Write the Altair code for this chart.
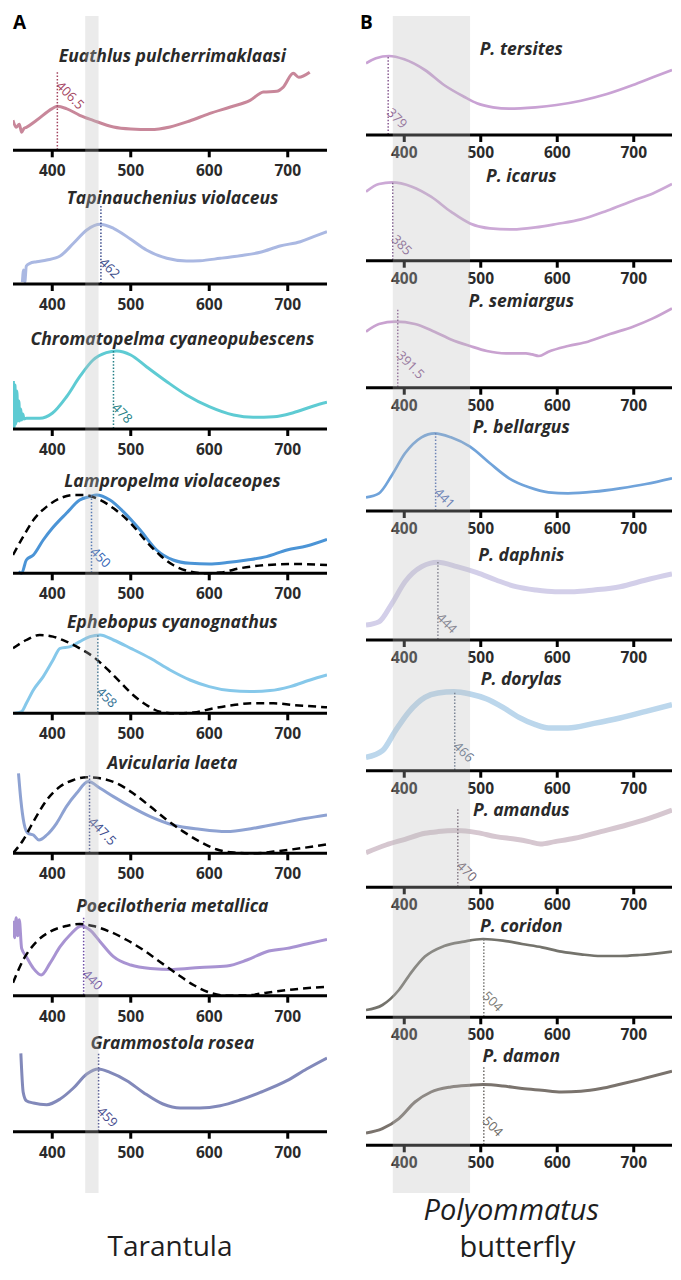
import altair as alt
import pandas as pd

# ---------------------------------------------------------------- data
TICKS = [400, 500, 600, 700]

# ---- Panel A: tarantulas (relative reflectance, 0-80 scale) ----
tar_species = ["Euathlus pulcherrimaklaasi", "Tapinauchenius violaceus",
               "Chromatopelma cyaneopubescens", "Lampropelma violaceopes",
               "Ephebopus cyanognathus", "Avicularia laeta",
               "Poecilotheria metallica", "Grammostola rosea"]
tar_peaks = [406.5, 462, 478, 450, 458, 447.5, 440, 459]
tar_peak_labels = ["406.5", "462", "478", "450", "458", "447.5", "440", "459"]
tar_line_colors = ["#c8879a", "#aab8e2", "#5ecbd3", "#4b94d6",
                   "#86c8ea", "#8ea2d2", "#a893d2", "#8289ba"]
tar_text_colors = ["#a3445f", "#3c4d8c", "#237f86", "#2f62b4",
                   "#306f92", "#3c4b8e", "#6c4ca4", "#4a4f8f"]

euathlus_wl = [350, 354, 358, 361, 364, 367, 380, 400, 406.5, 418, 435, 452, 478, 500,
               525, 550, 575, 600, 627, 652, 669, 686, 694, 707, 714, 728]
euathlus_r = [30, 23, 26, 18, 22, 23, 30, 41.7, 44, 41.7, 35, 30, 23.3, 21.3,
              20.7, 23.3, 29.3, 36.7, 43.3, 50, 58.3, 59, 63, 77, 73, 78]

tapin_wl = [362, 363.5, 365, 367, 371.5, 380, 393, 410, 427, 444, 461, 478, 500, 520,
            546, 571, 588, 614, 639, 665, 690, 716, 733, 750]
tapin_r = [2, 14, 2, 18, 20.7, 22.3, 24, 28, 40.7, 54, 59.7, 55.7, 44.7, 34,
           25.7, 23, 23.3, 25.7, 28.3, 31.7, 38, 42.3, 47.3, 52.3]

chroma_wl = [350.5, 351.5, 352.5, 353.5, 355, 356, 357.5, 358.5, 360, 361, 362.5, 364,
             367, 384, 400, 418, 435, 452, 469, 482, 500, 520, 546, 571, 600, 631,
             656, 682, 707, 733, 750]
chroma_r = [48, 2, 44, 5, 38, 8, 28, 8, 20, 9, 15, 10,
            10.7, 10.7, 15.7, 32, 52.3, 69, 76.3, 78, 74, 62.3, 47.3, 34, 22.3, 14,
            11.7, 12.3, 16.3, 23, 26.7]

lampro_wl = [357, 361, 367, 376, 388.5, 400, 418, 435, 448, 456.5, 473.5, 490.5, 512,
             533, 554, 575.5, 600, 622.5, 648, 673, 699, 724, 750]
lampro_r = [1.7, 0, 13.3, 18.3, 33.3, 45, 60, 73.3, 76.7, 78.3, 73.3, 61.7, 43.3,
            23.3, 13.3, 10, 9.3, 10.7, 13.3, 16.7, 23.3, 27.3, 34]
lampro_model_wl = [350, 363, 376, 393, 410, 427, 439.5, 456.5, 478, 500, 520, 537, 554,
                   575.5, 593, 614, 639, 673, 707, 750]
lampro_model_r = [18.3, 36.7, 53.3, 66.7, 75, 78.3, 78.3, 75, 65, 50, 31.7, 18.3, 8.3,
                  1.7, 0, 0.7, 5, 8.3, 9.3, 8.3]

ephe_wl = [352, 361, 367, 376, 388.5, 401, 410, 423, 435, 448, 461, 478, 500, 525, 550,
           575.5, 600, 626.5, 652, 677.5, 703, 728.5, 750]
ephe_r = [0, 1.7, 10, 23.3, 36.7, 53.3, 65, 66.7, 71.7, 76.7, 78.3, 73.3, 65, 55, 43.3,
          33.3, 26.7, 22.7, 21.7, 22.7, 26.7, 33.3, 38.3]
ephe_model_wl = [350, 367, 384, 401, 418, 435, 452, 469, 486, 503, 520, 537, 558, 580,
                 605, 631, 656, 682, 707, 750]
ephe_model_r = [65, 73.3, 78.3, 76.7, 71.7, 65, 56.7, 45, 31.7, 18.3, 8.3, 1.7, 0, 0.7,
                5, 8.3, 10, 10, 8.3, 6]

avic_wl = [357, 360, 364, 369, 376, 383, 393, 405.5, 418, 431, 446, 461, 478, 500, 525,
           554, 588, 622, 656, 690, 724, 750]
avic_r = [80, 53.3, 30, 20, 18.3, 13.3, 18.3, 30, 46.7, 60, 71.7, 65, 56.7, 46.7, 36.7,
          28.3, 24, 21.7, 25, 30, 35, 38.3]
avic_model_wl = [350, 363, 376, 393, 410, 427, 444, 461, 482, 503, 525, 546, 567, 588,
                 609, 631, 656, 682, 716, 750]
avic_model_r = [0, 13.3, 31.7, 53.3, 66.7, 73.3, 76, 75, 70, 60, 46.7, 33.3, 21.7, 11.7,
                4, 0.7, 0, 1.7, 5, 9]

poec_wl = [350, 352, 354, 356, 358, 361, 367, 376, 386, 397, 410, 422.5, 437, 448, 461,
           478, 500, 525, 554, 588, 622.5, 648, 673, 699, 724, 750]
poec_r = [75, 58, 78, 60, 76, 47.3, 39, 27.3, 20.7, 32.3, 49, 60.7, 69.7, 65.7, 54,
          39, 30.7, 27.3, 26.3, 28.3, 29.7, 35.7, 44, 47.3, 51.7, 56.3]
poec_model_wl = [350, 363, 380, 397, 418, 435, 452, 473.5, 495, 516, 537, 558, 580, 601,
                 622, 648, 673, 707, 750]
poec_model_r = [13, 35.7, 54, 64, 69.7, 71.7, 69.7, 64, 55.7, 45.7, 34, 22.3, 10.7, 3,
                0, 0.3, 3, 6.3, 9]

gramm_wl = [360, 363, 367, 376, 393, 410, 427, 444, 459, 473.5, 495, 516, 541, 563, 588,
            614, 639, 665, 699, 724, 750]
gramm_r = [78.3, 39.3, 31, 28.7, 27, 32.7, 43.7, 57.7, 62.7, 59.3, 51, 39.3, 27.7, 23.7,
           23.7, 26, 31.7, 39.3, 51, 62.7, 73.7]

tar_curves = [(euathlus_wl, euathlus_r), (tapin_wl, tapin_r), (chroma_wl, chroma_r),
              (lampro_wl, lampro_r), (ephe_wl, ephe_r), (avic_wl, avic_r),
              (poec_wl, poec_r), (gramm_wl, gramm_r)]
tar_models = {3: (lampro_model_wl, lampro_model_r), 4: (ephe_model_wl, ephe_model_r),
              5: (avic_model_wl, avic_model_r), 6: (poec_model_wl, poec_model_r)}

# ---- Panel B: Polyommatus butterflies ----
but_species = ["P. tersites", "P. icarus", "P. semiargus", "P. bellargus", "P. daphnis",
               "P. dorylas", "P. amandus", "P. coridon", "P. damon"]
but_peaks = [379, 385, 391.5, 441, 444, 466, 470, 504, 504]
but_peak_labels = ["379", "385", "391.5", "441", "444", "466", "470", "504", "504"]
but_line_colors = ["#c9a2d4", "#cca9d6", "#c9a2d0", "#70a3da", "#d3cfe9",
                   "#bcd7ec", "#d6c7d0", "#74736c", "#7a736d"]
but_text_colors = ["#8a5c93", "#7e5a8e", "#8a5c93", "#4c6cb4", "#6e6e80",
                   "#5e6e86", "#6e5e6e", "#7a7a76", "#6e6a66"]

ters_wl = [350, 363, 380, 400, 427, 452, 478, 495, 516, 537, 571.5, 599, 631, 665, 699, 725, 750]
ters_r = [71.7, 76.7, 79, 75.7, 65, 50, 38.3, 31.7, 27.7, 26.3, 27.7, 30, 34.3, 41, 50, 57.7, 65]

icar_wl = [350, 367, 384, 410, 435, 461, 486, 512, 542, 571.5, 599, 631, 665, 699, 725, 750]
icar_r = [69, 76.7, 78.3, 74, 64, 49, 37.3, 32.3, 31.3, 33.3, 36.7, 41.3, 50, 60, 67.3, 76.7]

semi_wl = [350, 367, 388.5, 414, 439.5, 461, 486, 508, 533, 559, 567, 576, 588.5, 614,
           640, 669, 699, 725, 750]
semi_r = [56, 63.7, 66, 63.7, 56, 48.3, 41.7, 36.7, 34.3, 34.3, 33.3, 31.7, 36, 41.7,
          46, 53.7, 61, 69.3, 79.3]

bell_wl = [350, 367, 384, 401, 422.5, 440, 461, 486, 512, 537, 563, 588.5, 614, 648, 682, 716, 750]
bell_r = [13.7, 17.7, 36, 57.7, 73.7, 77.7, 73.7, 64.3, 47.7, 32.7, 23.7, 18.7, 17.7,
          19.3, 22.7, 27, 32.7]

daph_wl = [350, 367, 384, 401, 422.5, 444, 469, 495, 520, 546, 571.5, 597, 622.5, 648, 682, 716, 750]
daph_r = [15, 18.3, 36.7, 58.3, 73.3, 77.7, 73.3, 67.3, 60, 53.3, 50, 48.3, 48.3, 50,
          53.3, 60, 66]

dory_wl = [350, 371.5, 388.5, 405.5, 427, 444, 465, 486, 508, 529, 550, 571.5, 588.5,
           614, 648, 682, 716, 750]
dory_r = [13.3, 20, 40, 58.3, 73.3, 77.7, 79, 76.7, 71.7, 63.3, 53.3, 46, 42.7, 42.7,
          47.3, 52.7, 59.3, 66]

aman_wl = [350, 376, 401, 427, 444, 469, 495, 520, 546, 563, 578, 597, 622.5, 657, 690.6, 720, 750]
aman_r = [34.7, 42.3, 48, 54, 55.7, 56.7, 54.7, 50.7, 48, 45.7, 43.3, 45.7, 49, 55.7,
          62.3, 69, 77.3]

cori_wl = [350, 371.5, 393, 410, 427, 452, 478, 503, 529, 554, 580, 605.5, 631, 657, 682, 707.7, 750]
cori_r = [7.3, 12.3, 27.3, 45.7, 60.7, 71.3, 75.7, 78.3, 76.7, 73.3, 70, 65.7, 63,
          61.3, 61.3, 62.3, 65.7]

damo_wl = [350, 371.5, 393, 414, 435, 461, 486, 503, 529, 554, 580, 605.5, 631, 657, 682, 707.7, 750]
damo_r = [12.3, 16.7, 26.7, 43.3, 53.3, 58.3, 60, 60.7, 59.3, 56.7, 55, 53.3, 54,
          56.7, 61, 65.7, 74]

but_curves = [(ters_wl, ters_r), (icar_wl, icar_r), (semi_wl, semi_r), (bell_wl, bell_r),
              (daph_wl, daph_r), (dory_wl, dory_r), (aman_wl, aman_r), (cori_wl, cori_r),
              (damo_wl, damo_r)]

# ---------------------------------------------------------------- layout
Y_TOP, Y_BOTTOM = 12, 1264            # vertical span of each column (page px)
W_LEFT, W_RIGHT = 314, 306
LEFT_BASE = [150.3, 284, 429, 573.3, 713.3, 853.3, 995.7, 1131.7]
RIGHT_BASE = [135, 260.7, 387.7, 511, 640, 770.7, 887.3, 1017.3, 1145.3]
LEFT_TITLE_OFF = [88.6, 80, 84, 86.6, 85, 84, 84, 82.4]
RIGHT_TITLE_OFF = [80, 79, 80.4, 77.7, 79.3, 85.7, 71, 85.6, 83]
LEFT_LABEL_OFF = [67, 24, 24, 24, 24, 34, 24, 23]
RIGHT_LABEL_OFF = [25, 24, 35, 21, 25, 27, 24, 24, 27]
LEFT_WIDTHS = [3] * 8
RIGHT_WIDTHS = [2.7, 2.7, 2.7, 2.7, 5, 5.5, 5, 2.7, 3]
FONT = "Open Sans"

XS = alt.Scale(domain=[350, 750], nice=False, zero=False)
YS = alt.Scale(domain=[Y_TOP, Y_BOTTOM], reverse=True, nice=False, zero=False)


def X(f):
    return alt.X(f, type="quantitative", scale=XS, axis=None)


def Y(f):
    return alt.Y(f, type="quantitative", scale=YS, axis=None)


def column(species, bases, curves, models, peaks, peak_labels, line_colors,
           text_colors, widths, title_off, label_off, band, tick_lab_off,
           letter, letter_dx, bottom_texts, bottom_size, width):
    rows = []
    for i, (wl, r) in enumerate(curves):
        for w, v in zip(wl, r):
            rows.append(dict(panel=i, wl=w, y=bases[i] - v, color=line_colors[i], sw=widths[i]))
    lines = alt.Chart(pd.DataFrame(rows)).mark_line(
        interpolate="monotone", strokeCap="butt", strokeJoin="round", clip=True
    ).encode(x=X("wl"), y=Y("y"), detail="panel:N",
             color=alt.Color("color:N", scale=None),
             strokeWidth=alt.StrokeWidth("sw:Q", scale=None))

    layers = [lines]
    mrows = []
    for i, (wl, r) in models.items():
        for w, v in zip(wl, r):
            mrows.append(dict(panel=i, wl=w, y=bases[i] - v))
    if mrows:
        layers.append(alt.Chart(pd.DataFrame(mrows)).mark_line(
            interpolate="monotone", color="black", strokeWidth=2.5, strokeDash=[8, 5],
            clip=True
        ).encode(x=X("wl"), y=Y("y"), detail="panel:N"))

    prow = pd.DataFrame(dict(
        peak=peaks, lab=peak_labels, tc=text_colors,
        ytop=[b - 78 for b in bases], ybase=bases,
        ylab=[b - o for b, o in zip(bases, label_off)]))
    layers.append(alt.Chart(prow).mark_rule(strokeWidth=1.5, strokeDash=[1.5, 1.8]).encode(
        x=X("peak"), y=Y("ytop"), y2=alt.Y2("ybase"), color=alt.Color("tc:N", scale=None)))

    axrows = pd.DataFrame(dict(x0=[350] * len(bases), x1=[750] * len(bases), y=bases))
    layers.append(alt.Chart(axrows).mark_rule(strokeWidth=3, color="black", clip=True).encode(
        x=X("x0"), x2=alt.X2("x1"), y=Y("y")))

    trows = pd.DataFrame([dict(t=t, lab=str(t), y=b, y2=b + 7, yl=b + tick_lab_off)
                          for b in bases for t in TICKS])
    layers.append(alt.Chart(trows).mark_rule(strokeWidth=3, color="black").encode(
        x=X("t"), y=Y("y"), y2=alt.Y2("y2")))
    layers.append(alt.Chart(trows).mark_text(
        font=FONT, fontSize=15.5, fontWeight="bold", color="#2a2a2a", baseline="middle"
    ).encode(x=X("t"), y=Y("yl"), text="lab:N"))

    layers.append(alt.Chart(prow).mark_text(
        font=FONT, fontSize=13, angle=45, align="left", baseline="middle", dx=1
    ).encode(x=X("peak"), y=Y("ylab"), text="lab:N", color=alt.Color("tc:N", scale=None)))

    ttl = pd.DataFrame(dict(name=species, xc=[553] * len(species),
                            y=[b - o for b, o in zip(bases, title_off)]))
    layers.append(alt.Chart(ttl).mark_text(
        font=FONT, fontSize=17.5, fontWeight="bold", fontStyle="italic", color="#2a2a2a",
        baseline="alphabetic", align="center"
    ).encode(x=X("xc"), y=Y("y"), text="name:N"))

    let = pd.DataFrame(dict(t=[letter], x=[350], y=[23]))
    layers.append(alt.Chart(let).mark_text(
        font=FONT, fontSize=19, fontWeight="bold", color="black", align="left",
        baseline="middle", dx=letter_dx
    ).encode(x=X("x"), y=Y("y"), text="t:N"))

    for txt, xc, yb, style in bottom_texts:
        bt = pd.DataFrame(dict(t=[txt], x=[xc], y=[yb]))
        layers.append(alt.Chart(bt).mark_text(
            font=FONT, fontSize=bottom_size, fontStyle=style, color="#1e1e1e",
            align="center", baseline="alphabetic"
        ).encode(x=X("x"), y=Y("y"), text="t:N"))

    bdf = pd.DataFrame(dict(x0=[band[0]], x1=[band[1]], y0=[16], y1=[1193]))
    layers.append(alt.Chart(bdf).mark_rect(color="#bdbdbd", opacity=0.3).encode(
        x=X("x0"), x2=alt.X2("x1"), y=Y("y0"), y2=alt.Y2("y1")))

    return alt.layer(*layers).properties(width=width, height=Y_BOTTOM - Y_TOP)


left = column(tar_species, LEFT_BASE, tar_curves, tar_models, tar_peaks, tar_peak_labels,
              tar_line_colors, tar_text_colors, LEFT_WIDTHS, LEFT_TITLE_OFF, LEFT_LABEL_OFF,
              (442, 459), 21, "A", 0, [("Tarantula", 550, 1256, "normal")], 28, W_LEFT)
right = column(but_species, RIGHT_BASE, but_curves, {}, but_peaks, but_peak_labels,
               but_line_colors, but_text_colors, RIGHT_WIDTHS, RIGHT_TITLE_OFF, RIGHT_LABEL_OFF,
               (385, 486), 18, "B", -6,
               [("Polyommatus", 540, 1220, "italic"), ("butterfly", 548, 1257, "normal")],
               29, W_RIGHT)

chart = alt.hconcat(left, right, spacing=39, bounds="flush").properties(
    padding={"left": 5, "top": 4, "right": 0, "bottom": 0}
).configure_view(stroke=None)

chart.save("out.html", embed_options={"renderer": "svg", "actions": False})
